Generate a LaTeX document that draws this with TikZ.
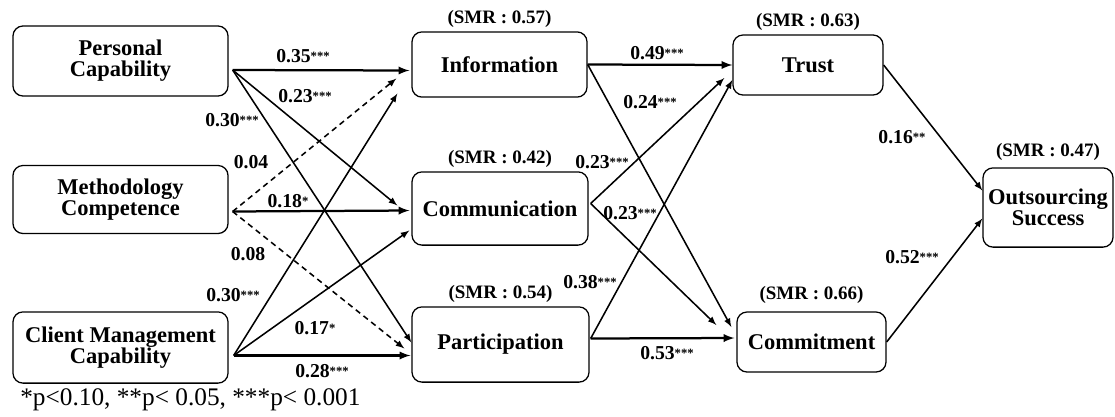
\documentclass[tikz,border=0pt]{standalone}
\usepackage{fontspec}
\setmainfont{Liberation Serif}
\usepackage{tikz}
\usetikzlibrary{calc}
\usetikzlibrary{arrows}
\usetikzlibrary{positioning}

\newcommand{\sig}[1]{{\fontsize{9}{9}\selectfont\raisebox{0.3ex}{#1}}}

\tikzset{
  construct/.style={draw, line width=0.9pt, rounded corners=0.25cm, align=center, inner sep=1pt,
                    font=\fontsize{16}{15}\selectfont\bfseries},
  smr/.style={inner sep=0pt, font=\fontsize{13.5}{14}\selectfont\bfseries},
  coef/.style={inner sep=0pt, font=\fontsize{14}{14}\selectfont\bfseries},
  effect/.style={->, >=latex, line width=1.1pt},
  strong effect/.style={effect, line width=1.6pt},
  weak effect/.style={effect, dashed, dash pattern=on 4pt off 3pt}
}

\begin{document}
\begin{tikzpicture}[x=0.025cm, y=-0.025cm]
            \useasboundingbox (0,0) rectangle (1115,416);
            % Antecedents
            \node[construct, minimum width=5.375cm, minimum height=1.75cm]  (pers)   at (120.5,  61.0) {Personal\\Capability};
            \node[construct, minimum width=5.375cm, minimum height=1.70cm]  (meth)   at (120.5, 199.5) {Methodology\\Competence};
            \node[construct, minimum width=5.375cm, minimum height=1.78cm]  (client) at (120.5, 347.5) {Client Management\\Capability};
            % Mediators (first stage)
            \node[construct, minimum width=4.375cm, minimum height=1.63cm]  (info)   at (499.5,  64.5) {Information};
            \node[construct, minimum width=4.400cm, minimum height=1.83cm]  (comm)   at (500.0, 208.5) {Communication};
            \node[construct, minimum width=4.425cm, minimum height=1.88cm]  (part)   at (500.5, 344.5) {Participation};
            % Mediators (second stage)
            \node[construct, minimum width=3.750cm, minimum height=1.50cm]  (trust)  at (808.0,  65.0) {Trust};
            \node[construct, minimum width=3.725cm, minimum height=1.50cm]  (commit) at (811.5, 342.0) {Commitment};
            % Outcome
            \node[construct, minimum width=3.250cm, minimum height=1.98cm,
                  font=\fontsize{16}{12.5}\selectfont\bfseries]             (out)    at (1048.0, 207.5) {Outsourcing\\Success};

            % Explained variance
            \node[smr, above=2.5pt of info]   (smr-info)   {(SMR : 0.57)};
            \node[smr, above=2.5pt of comm]   (smr-comm)   {(SMR : 0.42)};
            \node[smr, above=2.5pt of part]   (smr-part)   {(SMR : 0.54)};
            \node[smr, above=2.5pt of trust]  (smr-trust)  {(SMR : 0.63)};
            \node[smr, above=5.3pt of commit] (smr-commit) {(SMR : 0.66)};
            \node[smr, above=4.6pt of out]    (smr-out)    {(SMR : 0.47)};

            % Start points of the paths
            \coordinate (pers-o)   at ($(pers.east)+(4,9)$);
            \coordinate (meth-o)   at ($(meth.east)+(4,12)$);
            \coordinate (client-o) at ($(client.east)+(5,8)$);
            \coordinate (comm-o)   at ($(comm.east)+(2,-5)$);
            \coordinate (part-o)   at ($(part.east)+(1,-6)$);

            % Antecedents -> first stage
            \draw[strong effect] (pers-o)   -- ($(info.west)+(-2,6)$);
            \draw[effect]        (pers-o)   -- ($(comm.west)+(-14,-3)$);
            \draw[effect]        (pers-o)   -- ($(part.west)+(0,-2)$);
            \draw[weak effect]   (meth-o)   -- ($(info.west)+(-15,14)$);
            \draw[strong effect] (meth-o)   -- ($(comm.west)+(-2,2)$);
            \draw[weak effect]   (meth-o)   -- ($(part.west)+(-7,4)$);
            \draw[effect]        (client-o) -- ($(info.west)+(-14,29)$);
            \draw[effect]        (client-o) -- ($(comm.west)+(-2,22)$);
            \draw[strong effect] (client-o) -- ($(part.west)+(-1,11)$);
            % First stage -> second stage
            \draw[strong effect] (info.east) -- ($(trust.west)+(0,0)$);
            \draw[effect]        (info.east) -- ($(commit.west)+(-5,-15)$);
            \draw[effect]        (comm-o)    -- ($(trust.west)+(-8,13)$);
            \draw[effect]        (comm-o)    -- ($(commit.west)+(-20,-17)$);
            \draw[effect]        (part-o)    -- ($(trust.west)+(0,15)$);
            \draw[strong effect] (part-o)    -- ($(commit.west)+(-2,-4)$);
            % Second stage -> outcome
            \draw[effect]        (trust.east)  -- ($(out.west)+(0,-17)$);
            \draw[effect]        (commit.east) -- ($(out.west)+(0,11)$);

            % Path coefficients
            \node[coef] (c-pers-info)   at (303,  56) {0.35\sig{***}};
            \node[coef] (c-pers-comm)   at (305,  96) {0.23\sig{***}};
            \node[coef] (c-pers-part)   at (232, 120) {0.30\sig{***}};
            \node[coef] (c-meth-info)   at (251, 162) {0.04};
            \node[coef] (c-meth-comm)   at (288, 201) {0.18\sig{*}};
            \node[coef] (c-meth-part)   at (248, 254) {0.08};
            \node[coef] (c-client-info) at (233, 295) {0.30\sig{***}};
            \node[coef] (c-client-comm) at (315, 328) {0.17\sig{*}};
            \node[coef] (c-client-part) at (322, 371) {0.28\sig{***}};
            \node[coef] (c-info-trust)  at (657,  53) {0.49\sig{***}};
            \node[coef] (c-info-commit) at (650, 102) {0.24\sig{***}};
            \node[coef] (c-comm-trust)  at (602, 162) {0.23\sig{***}};
            \node[coef] (c-comm-commit) at (630, 213) {0.23\sig{***}};
            \node[coef] (c-part-trust)  at (590, 282) {0.38\sig{***}};
            \node[coef] (c-part-commit) at (667, 353) {0.53\sig{***}};
            \node[coef] (c-trust-out)   at (902, 137) {0.16\sig{**}};
            \node[coef] (c-commit-out)  at (912, 257) {0.52\sig{***}};

            % Significance levels
            \node[anchor=west, inner sep=0pt, font=\fontsize{18}{18}\selectfont] (note) at (20, 400)
                 {*p<0.10, **p< 0.05, ***p< 0.001};
\end{tikzpicture}
\end{document}
